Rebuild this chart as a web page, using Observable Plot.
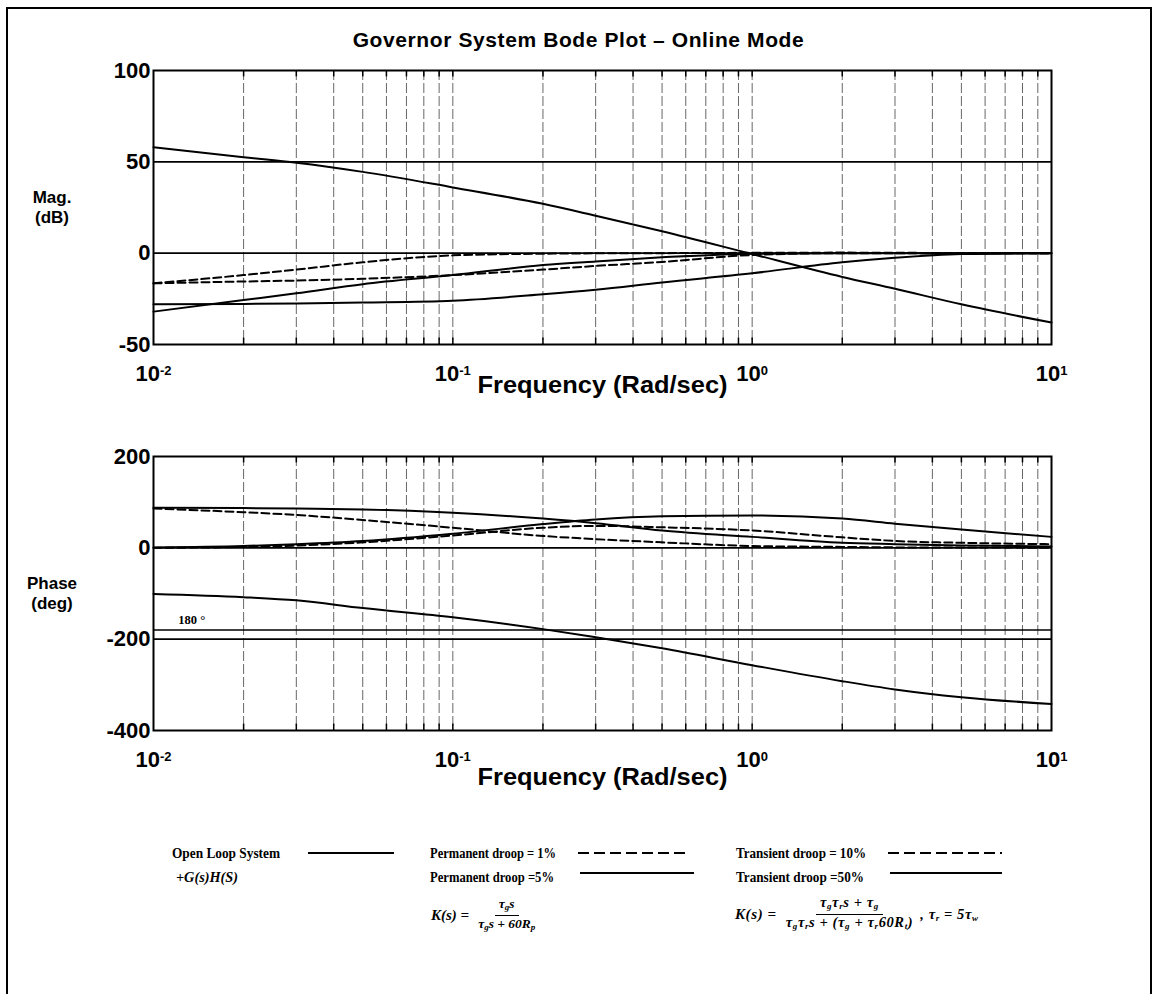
<!DOCTYPE html>
<html>
<head>
<meta charset="utf-8">
<script src="https://cdn.jsdelivr.net/npm/d3@7"></script>
<script src="https://cdn.jsdelivr.net/npm/@observablehq/plot@0.6"></script>
<style>
  body { margin: 0; background: #fff; }
  #page { position: relative; width: 1157px; height: 994px; overflow: hidden; background: #fff;
          font-family: "Liberation Sans", Arial, sans-serif; color: #000; }
  #frame { position: absolute; left: 6px; top: 7px; width: 1142px; height: 1000px;
           border: 2px solid #000; border-bottom: none; }
  #title { position: absolute; left: 0; width: 1157px; top: 28px; text-align: center;
           font-weight: bold; font-size: 21px; line-height: 24px; letter-spacing: 0.6px; }
  .plotbox { position: absolute; left: 0; }
  .ylab { position: absolute; width: 70px; left: 17px; text-align: center; font-weight: bold;
          font-size: 17px; line-height: 20px; }
  #legend { position: absolute; left: 0; top: 0; pointer-events: none; }
  .formula { position: absolute; display: flex; align-items: center; font-family: "Liberation Serif", "Times New Roman", serif;
             font-weight: bold; font-style: italic; font-size: 13.5px; }
  .formula .k { font-size: 15px; margin-right: 5px; white-space: nowrap; }
  .frac { display: inline-flex; flex-direction: column; align-items: center; }
  .frac .num { border-bottom: 1px solid #000; padding: 0 4px 1px 4px; white-space: nowrap; line-height: 13px; }
  .frac .den { padding: 1px 4px 0 4px; white-space: nowrap; line-height: 13px; }
  .formula sub { font-size: 9px; vertical-align: -2px; }
  .formula .tail { margin-left: 3px; white-space: nowrap; }
  #f2 { font-size: 14.5px; letter-spacing: 0.6px; }
</style>
</head>
<body>
<div id="page">
  <div id="frame"></div>
  <div id="title">Governor System Bode Plot – Online Mode</div>
  <div class="ylab" style="top:188px">Mag.<br>(dB)</div>
  <div class="ylab" style="top:574px">Phase<br>(deg)</div>
  <div id="mag" class="plotbox" style="top:0px"></div>
  <div id="phase" class="plotbox" style="top:404px"></div>
  <svg id="legend" width="1157" height="994"></svg>
  <div class="formula" style="left:431px; top:897px">
    <span class="k">K(s) =</span>
    <span class="frac"><span class="num">τ<sub>g</sub>s</span><span class="den">τ<sub>g</sub>s + 60R<sub>p</sub></span></span>
  </div>
  <div id="f2" class="formula" style="left:735px; top:896px">
    <span class="k">K(s) =</span>
    <span class="frac"><span class="num">τ<sub>g</sub>τ<sub>r</sub>s + τ<sub>g</sub></span><span class="den">τ<sub>g</sub>τ<sub>r</sub>s + (τ<sub>g</sub> + τ<sub>r</sub>60R<sub>t</sub>)</span></span>
    <span class="tail">, τ<sub>r</sub> = 5τ<sub>w</sub></span>
  </div>
</div>
<script>
// ---------------- data ----------------
const freq = [0.01, 0.02, 0.03, 0.05, 0.1, 0.2, 0.3, 0.5, 1, 2, 3, 5, 10];

// magnitude (dB)
const magOpenLoop     = [58, 52.5, 49.5, 44.5, 36, 27, 20.5, 12, -0.5, -13, -19.5, -28, -38];
const magPermDroop1   = [-16.5, -12, -9, -5, -1.2, -0.3, -0.1, 0, 0.2, 0.3, 0.2, 0.1, 0];
const magPermDroop5   = [-32, -25.7, -22, -17, -12, -6.5, -4.5, -2.3, -0.3, 0, 0, 0, 0];
const magTransDroop10 = [-16.5, -15.5, -15, -14, -12, -9, -7, -4.8, -1, 0, 0, -0.1, 0];
const magTransDroop50 = [-28, -27.8, -27.5, -27, -26, -22.5, -20, -16, -11, -5, -2.5, -0.5, 0];

// phase (deg)
const phOpenLoop     = [-101, -108, -115, -132, -152, -178, -196, -220, -257, -292, -310, -327, -342];
const phPermDroop1   = [86, 78, 72, 61, 44, 26, 19, 12, 4, 2, 1, 1, 0];
const phPermDroop5   = [88, 87, 86, 84, 77, 64, 54, 38, 24, 11, 8, 5, 3];
const phTransDroop10 = [0, 2, 5, 12, 27, 44, 48, 45, 38, 23, 15, 11, 8];
const phTransDroop50 = [1, 4, 8, 15, 31, 52, 62, 69, 71, 64, 53, 40, 24];

// axes / reference lines
const decadeTicks = [0.01, 0.1, 1, 10];
const decadeLabels = ["10^-2", "10^-1", "10^0", "10^1"];
const gridFreqs = [0.02, 0.03, 0.04, 0.05, 0.06, 0.07, 0.08, 0.09, 0.1,
                   0.2, 0.3, 0.4, 0.5, 0.6, 0.7, 0.8, 0.9, 1,
                   2, 3, 4, 5, 6, 7, 8, 9];
const magTicks = [100, 50, 0, -50];
const magRules = [50, 0];
const phTicks = [200, 0, -200, -400];
const phRules = [0, -180, -200];
const phLabel = [{f: 0.0121, v: -180, text: "180 °"}];
const xLabel = "Frequency (Rad/sec)";

const legendItems = [
  {label: "Open Loop System", dashed: false},
  {label: "Permanent droop = 1%", dashed: true},
  {label: "Transient droop = 10%", dashed: true},
  {label: "+G(s)H(S)", dashed: null},
  {label: "Permanent droop =5%", dashed: false},
  {label: "Transient droop =50%", dashed: false}
];

// ---------------- helpers ----------------
const toRows = vals => freq.map((f, i) => ({f, v: vals[i]}));
const fmt = d => decadeLabels[decadeTicks.indexOf(d)];
const DASH = "8,4";

function postProcess(svg) {
  const ns = "http://www.w3.org/2000/svg";
  svg.querySelectorAll("text").forEach(t => {
    if (t.childElementCount === 0 && t.textContent.includes("^")) {
      const [base, exp] = t.textContent.split("^");
      t.textContent = "";
      const b = document.createElementNS(ns, "tspan");
      b.textContent = base;
      const e = document.createElementNS(ns, "tspan");
      e.setAttribute("dy", "-0.5em");
      e.setAttribute("font-size", "13px");
      e.textContent = exp;
      t.appendChild(b); t.appendChild(e);
    } else if (t.textContent === xLabel) {
      t.setAttribute("textLength", 250);
      t.setAttribute("lengthAdjust", "spacingAndGlyphs");
    }
  });
}

const common = {
  width: 1157,
  marginLeft: 153,
  marginRight: 106,
  style: {fontFamily: "'Liberation Sans', Arial, sans-serif", fontSize: "22px", fontWeight: "bold",
          background: "transparent", overflow: "visible", color: "#000"},
  x: {type: "log", domain: [0.01, 10]}
};

function curveMarks(list) {
  return list.map(([vals, dashed]) => Plot.line(toRows(vals), {
    x: "f", y: "v", stroke: "#000", strokeWidth: 2, curve: "monotone-x",
    strokeDasharray: dashed ? DASH : null
  }));
}

const gridStyle = {stroke: "#000", strokeWidth: 1, strokeDasharray: "10,3", strokeOpacity: 0.6};

// ---------------- magnitude plot ----------------
const magPlot = Plot.plot({
  ...common,
  height: 404,
  marginTop: 70,
  marginBottom: 60,
  y: {domain: [-50, 100]},
  marks: [
    Plot.ruleX(gridFreqs, gridStyle),
    Plot.ruleX(gridFreqs, {y1: 100, y2: 96.5, stroke: "#000", strokeWidth: 1.5}),
    Plot.ruleX(gridFreqs, {y1: -50, y2: -46.5, stroke: "#000", strokeWidth: 1.5}),
    Plot.ruleY(magRules, {stroke: "#000", strokeWidth: 1.6}),
    ...curveMarks([
      [magOpenLoop, false], [magPermDroop1, true], [magTransDroop10, true],
      [magPermDroop5, false], [magTransDroop50, false]
    ]),
    Plot.frame({stroke: "#000", strokeWidth: 2}),
    Plot.axisY({ticks: magTicks, tickSize: 0, tickPadding: 3, tickFormat: d => String(d), label: null}),
    Plot.axisX({ticks: decadeTicks, tickSize: 0, tickPadding: 21, tickFormat: fmt, label: null}),
    Plot.text([xLabel], {frameAnchor: "bottom", dy: 48, text: d => d, fontSize: 23})
  ]
});
postProcess(magPlot);
document.getElementById("mag").appendChild(magPlot);

// ---------------- phase plot ----------------
const phPlot = Plot.plot({
  ...common,
  height: 402,
  marginTop: 52,
  marginBottom: 76,
  y: {domain: [-400, 200]},
  marks: [
    Plot.ruleX(gridFreqs, gridStyle),
    Plot.ruleX(gridFreqs, {y1: 200, y2: 186, stroke: "#000", strokeWidth: 1.5}),
    Plot.ruleX(gridFreqs, {y1: -400, y2: -386, stroke: "#000", strokeWidth: 1.5}),
    Plot.ruleY(phRules, {stroke: "#000", strokeWidth: 1.6}),
    ...curveMarks([
      [phOpenLoop, false], [phPermDroop1, true], [phTransDroop10, true],
      [phPermDroop5, false], [phTransDroop50, false]
    ]),
    Plot.text(phLabel, {x: "f", y: "v", text: "text", textAnchor: "start", dy: -10,
      fontSize: 12.5, fontFamily: "'Liberation Serif', serif"}),
    Plot.frame({stroke: "#000", strokeWidth: 2}),
    Plot.axisY({ticks: phTicks, tickSize: 0, tickPadding: 3, tickFormat: d => String(d), label: null}),
    Plot.axisX({ticks: decadeTicks, tickSize: 0, tickPadding: 21, tickFormat: fmt, label: null}),
    Plot.text([xLabel], {frameAnchor: "bottom", dy: 54, text: d => d, fontSize: 23})
  ]
});
postProcess(phPlot);
document.getElementById("phase").appendChild(phPlot);

// ---------------- legend ----------------
const lg = d3.select("#legend");
const textX = [172, 430, 736, 176, 430, 736];
const textY = [858, 858, 858, 882, 882, 882];
const textW = [108, 126, 130, 62, 124, 128];
const lineX = [[308, 394], [578, 688], [888, 1002], null, [580, 694], [890, 1002]];
const lineY = [853, 853, 853, null, 873, 873];
legendItems.forEach((it, i) => {
  lg.append("text").attr("x", textX[i]).attr("y", textY[i])
    .attr("font-family", "'Liberation Serif', 'Times New Roman', serif")
    .attr("font-weight", "bold").attr("font-size", 14)
    .attr("font-style", it.dashed === null ? "italic" : "normal")
    .attr("textLength", textW[i]).attr("lengthAdjust", "spacingAndGlyphs")
    .text(it.label);
  if (lineX[i]) {
    lg.append("line").attr("x1", lineX[i][0]).attr("x2", lineX[i][1])
      .attr("y1", lineY[i]).attr("y2", lineY[i])
      .attr("stroke", "#000").attr("stroke-width", 2)
      .attr("stroke-dasharray", it.dashed ? "11,5" : null);
  }
});
</script>
</body>
</html>
